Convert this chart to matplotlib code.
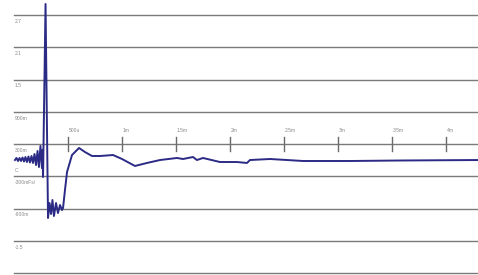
import matplotlib
matplotlib.use("Agg")
import matplotlib.pyplot as plt

# waveform (time in ms, voltage in V)
time_ms = [0.009, 0.023, 0.037, 0.051, 0.065, 0.079, 0.093, 0.106, 0.120, 0.134,
           0.148, 0.162, 0.176, 0.190, 0.204, 0.218, 0.231, 0.245, 0.259, 0.264,
           0.269, 0.292, 0.315, 0.329, 0.343, 0.356, 0.370, 0.389, 0.407, 0.426,
           0.444, 0.454, 0.472, 0.491, 0.537, 0.602, 0.657, 0.722, 0.796, 0.917,
           1.000, 1.120, 1.231, 1.352, 1.509, 1.565, 1.657, 1.694, 1.750, 1.907,
           2.065, 2.157, 2.185, 2.370, 2.676, 3.111, 3.574, 4.296]
volts = [0.002, 0.040, -0.016, 0.040, -0.016, 0.049, -0.026, 0.058, -0.035, 0.067,
         -0.044, 0.077, -0.053, 0.114, -0.091, 0.170, -0.128, 0.263, -0.147, 0.188,
         -0.314, 2.905, -1.077, -0.798, -1.002, -0.742, -1.040, -0.798, -0.984, -0.835,
         -0.928, -0.891, -0.556, -0.221, 0.095, 0.226, 0.151, 0.077, 0.077, 0.095,
         0.021, -0.109, -0.053, 0.002, 0.040, 0.021, 0.058, 0.002, 0.040, -0.035,
         -0.035, -0.053, 0.002, 0.021, -0.016, -0.016, -0.007, 0.002]

grid_values = [2.7, 2.1, 1.5, 0.9, 0.3, -0.3, -0.9, -1.5, -2.1]
grid_labels = ["2.7", "2.1", "1.5", "900m", "300m", "-300mFs/", "-900m", "-1.5", ""]

time_ticks = [0.5, 1.0, 1.5, 2.0, 2.5, 3.0, 3.5, 4.0]
time_labels = ["500u", "1m", "1.5m", "2m", "2.5m", "3m", "3.5m", "4m"]
time_axis_level = 0.3

fig = plt.figure(figsize=(4.78, 2.75), dpi=100)
ax = fig.add_axes([0, 0, 1, 1])
ax.set_xlim(-0.1296, 4.296)
ax.set_ylim(-2.137, 2.979)
ax.axis("off")

x0 = 0.0
for v, lab in zip(grid_values, grid_labels):
    ax.plot([x0, 4.4], [v, v], color="#7a7a7a", lw=1.0, zorder=1)
    ax.text(x0 + 0.005, v - 0.07, lab, fontsize=3.6, color="#8a8a8a",
            ha="left", va="top", family="Liberation Sans")

ax.text(x0 + 0.005, 0.3 - 0.5, "C", fontsize=3.6, color="#8a8a8a",
        ha="left", va="center", family="Liberation Sans")

for t, lab in zip(time_ticks, time_labels):
    ax.plot([t, t], [time_axis_level - 0.13, time_axis_level + 0.13],
            color="#6a6a6a", lw=1.0, zorder=2)
    ax.text(t + 0.01, time_axis_level + 0.2, lab, fontsize=3.6, color="#8a8a8a",
            ha="left", va="bottom", family="Liberation Sans")

ax.plot(time_ms, volts, color="#2b2b86", lw=1.4, zorder=3)

fig.savefig("out.png", dpi=100)
